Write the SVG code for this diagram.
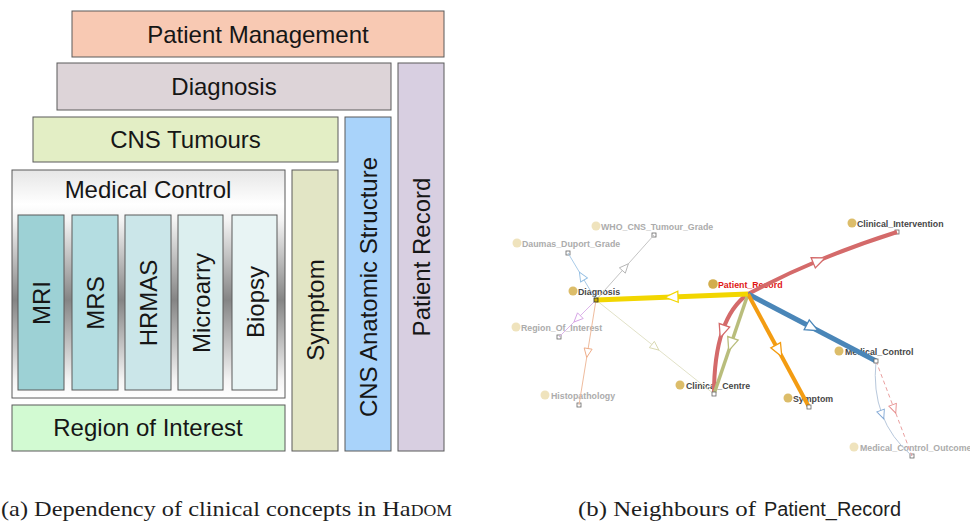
<svg xmlns="http://www.w3.org/2000/svg" width="970" height="522" viewBox="0 0 970 522">
<style>
.box{stroke:#5a5a5a;stroke-width:1}
.bt{font-family:"Liberation Sans",Arial,sans-serif;font-size:24px;fill:#161616;text-anchor:middle}
.nl{font-family:"Liberation Sans",Arial,sans-serif;font-size:8.8px;font-weight:bold}
.dk{fill:#474747}
.fd{fill:#acacac}
.pr{fill:#e01515}
.dotd{fill:#dcbd6a}
.dotf{fill:#efe3bd}
.anc{fill:#fff;stroke:#666;stroke-width:0.8}
.e{fill:none}
.cap{font-family:"Liberation Serif","Times New Roman",serif;font-size:22px;fill:#1e1e1e}
.caps{font-family:"Liberation Sans",Arial,sans-serif;font-size:20px;fill:#1e1e1e}
</style>
<defs>
<linearGradient id="gMC" x1="0" y1="0" x2="0" y2="1">
<stop offset="0" stop-color="#e6e6e6"/>
<stop offset="0.15" stop-color="#ffffff"/>
<stop offset="0.22" stop-color="#f4f4f4"/>
<stop offset="0.57" stop-color="#858585"/>
<stop offset="0.92" stop-color="#f4f4f4"/>
<stop offset="1" stop-color="#ffffff"/>
</linearGradient>
<marker id="mY" viewBox="-8 -7 16 14" markerWidth="16" markerHeight="14" orient="auto" markerUnits="userSpaceOnUse"><path d="M-6,-5.5 L7,0 L-6,5.5 Z" fill="#fff" stroke="#f2d600" stroke-width="1.3"/></marker>
<marker id="mR" viewBox="-8 -7 16 14" markerWidth="16" markerHeight="14" orient="auto" markerUnits="userSpaceOnUse"><path d="M-6,-5.5 L7,0 L-6,5.5 Z" fill="#fff" stroke="#d46a6a" stroke-width="1.3"/></marker>
<marker id="mB" viewBox="-8 -7 16 14" markerWidth="16" markerHeight="14" orient="auto" markerUnits="userSpaceOnUse"><path d="M-6,-5.5 L7,0 L-6,5.5 Z" fill="#fff" stroke="#4a86b8" stroke-width="1.3"/></marker>
<marker id="mO" viewBox="-8 -7 16 14" markerWidth="16" markerHeight="14" orient="auto" markerUnits="userSpaceOnUse"><path d="M-6,-5.5 L7,0 L-6,5.5 Z" fill="#fff" stroke="#f39c12" stroke-width="1.3"/></marker>
<marker id="mG" viewBox="-8 -7 16 14" markerWidth="16" markerHeight="14" orient="auto" markerUnits="userSpaceOnUse"><path d="M-6,-5.5 L7,0 L-6,5.5 Z" fill="#fff" stroke="#b9bd7c" stroke-width="1.3"/></marker>
<marker id="tG" viewBox="-6 -5 12 10" markerWidth="12" markerHeight="10" orient="auto" markerUnits="userSpaceOnUse"><path d="M-4,-4 L5,0 L-4,4 Z" fill="#fff" stroke="#b4b4b4" stroke-width="0.9"/></marker>
<marker id="tB" viewBox="-6 -5 12 10" markerWidth="12" markerHeight="10" orient="auto" markerUnits="userSpaceOnUse"><path d="M-4,-4 L5,0 L-4,4 Z" fill="#fff" stroke="#8fbce2" stroke-width="0.9"/></marker>
<marker id="tP" viewBox="-6 -5 12 10" markerWidth="12" markerHeight="10" orient="auto" markerUnits="userSpaceOnUse"><path d="M-4,-4 L5,0 L-4,4 Z" fill="#fff" stroke="#d4a0e4" stroke-width="0.9"/></marker>
<marker id="tO" viewBox="-6 -5 12 10" markerWidth="12" markerHeight="10" orient="auto" markerUnits="userSpaceOnUse"><path d="M-4,-4 L5,0 L-4,4 Z" fill="#fff" stroke="#eca883" stroke-width="0.9"/></marker>
<marker id="tC" viewBox="-6 -5 12 10" markerWidth="12" markerHeight="10" orient="auto" markerUnits="userSpaceOnUse"><path d="M-4,-4 L5,0 L-4,4 Z" fill="#fff" stroke="#d8d8b0" stroke-width="0.9"/></marker>
<marker id="tR" viewBox="-6 -5 12 10" markerWidth="12" markerHeight="10" orient="auto" markerUnits="userSpaceOnUse"><path d="M-4,-4 L5,0 L-4,4 Z" fill="#fff" stroke="#e58a8a" stroke-width="0.9"/></marker>
<marker id="tS" viewBox="-6 -5 12 10" markerWidth="12" markerHeight="10" orient="auto" markerUnits="userSpaceOnUse"><path d="M-4,-4 L5,0 L-4,4 Z" fill="#fff" stroke="#7fa6d4" stroke-width="0.9"/></marker>
</defs>
<rect width="970" height="522" fill="#ffffff"/>

<!-- Left panel (a) -->
<g id="patient-management"><rect class="box" x="72" y="11" width="372" height="46" fill="#f8c9b3"/><text class="bt" x="258" y="43">Patient Management</text></g>
<g id="diagnosis-box"><rect class="box" x="57" y="63" width="334" height="47" fill="#ddd4d8"/><text class="bt" x="224" y="95">Diagnosis</text></g>
<g id="patient-record-box"><rect class="box" x="398" y="63" width="46" height="388" fill="#d8cfe1"/><text class="bt" transform="translate(421,257) rotate(-90)" x="0" y="9">Patient Record</text></g>
<g id="cns-tumours"><rect class="box" x="33" y="117" width="305" height="45" fill="#e3eec5"/><text class="bt" x="185.5" y="148">CNS Tumours</text></g>
<g id="cns-anatomic"><rect class="box" x="345" y="117" width="46" height="334" fill="#a9d3fa"/><text class="bt" transform="translate(368,287) rotate(-90)" x="0" y="9">CNS Anatomic Structure</text></g>
<g id="medical-control-box"><rect class="box" x="12" y="170" width="273" height="228" fill="url(#gMC)"/><text class="bt" x="148" y="198">Medical Control</text>
<g id="mri"><rect class="box" x="18" y="215" width="46" height="175" fill="#9dd1d5"/><text class="bt" transform="translate(41,303) rotate(-90)" x="0" y="9">MRI</text></g>
<g id="mrs"><rect class="box" x="72" y="215" width="46" height="175" fill="#b4dde1"/><text class="bt" transform="translate(95,303) rotate(-90)" x="0" y="9">MRS</text></g>
<g id="hrmas"><rect class="box" x="125" y="215" width="46" height="175" fill="#cbe6e9"/><text class="bt" transform="translate(148,303) rotate(-90)" x="0" y="9">HRMAS</text></g>
<g id="microarry"><rect class="box" x="178" y="215" width="45" height="175" fill="#dcefef"/><text class="bt" transform="translate(200.5,303) rotate(-90)" x="0" y="9">Microarry</text></g>
<g id="biopsy"><rect class="box" x="232" y="215" width="45" height="175" fill="#e8f4f4"/><text class="bt" transform="translate(254.5,302) rotate(-90)" x="0" y="9">Biopsy</text></g>
</g>
<g id="symptom-box"><rect class="box" x="292" y="170" width="46" height="281" fill="#e2e5c5"/><text class="bt" transform="translate(315,310) rotate(-90)" x="0" y="9">Symptom</text></g>
<g id="region-of-interest-box"><rect class="box" x="12" y="405" width="273" height="46" fill="#d2fad2"/><text class="bt" x="148" y="436">Region of Interest</text></g>

<!-- Right panel (b) nodes -->
<g id="n-who"><circle class="dotf" cx="596" cy="226" r="4.5"/><text class="nl fd" x="601" y="229.5">WHO_CNS_Tumour_Grade</text><rect class="anc" x="652" y="233" width="4" height="4"/></g>
<g id="n-daumas"><circle class="dotf" cx="517" cy="243" r="4.5"/><text class="nl fd" x="522" y="246.5">Daumas_Duport_Grade</text><rect class="anc" x="566" y="251" width="4" height="4"/></g>
<g id="n-diagnosis"><circle class="dotd" cx="573" cy="291" r="4.5"/><text class="nl dk" x="578" y="294.5">Diagnosis</text></g>
<g id="n-patient-record"><circle cx="713" cy="284" r="4.8" fill="#d2ad4c"/><text class="nl pr" x="718" y="287.5">Patient_Record</text></g>
<g id="n-clinical-intervention"><circle class="dotd" cx="852" cy="223" r="4.5"/><text class="nl dk" x="857" y="226.5">Clinical_Intervention</text><rect class="anc" x="895" y="230" width="4" height="4"/></g>
<g id="n-medical-control"><circle class="dotd" cx="839" cy="351" r="4.5"/><text class="nl dk" x="845" y="354.5">Medical_Control</text></g>
<g id="n-symptom"><circle class="dotd" cx="788" cy="398" r="4.5"/><text class="nl dk" x="793" y="401.5">Symptom</text></g>
<g id="n-clinical-centre"><circle class="dotd" cx="680" cy="385" r="4.5"/><text class="nl dk" x="686" y="388.5">Clinical_Centre</text></g>
<g id="n-histopathology"><circle class="dotf" cx="545" cy="395" r="4.5"/><text class="nl fd" x="551" y="398.5">Histopathology</text><rect class="anc" x="577" y="403" width="4" height="4"/></g>
<g id="n-region-of-interest"><circle class="dotf" cx="516" cy="327" r="4.5"/><text class="nl fd" x="521" y="330.5">Region_Of_Interest</text><rect class="anc" x="557" y="335" width="4" height="4"/></g>
<g id="n-medical-control-outcome"><circle class="dotf" cx="854" cy="447" r="4.5"/><text class="nl fd" x="860" y="450.5">Medical_Control_Outcome</text><rect class="anc" x="910" y="454" width="4" height="4"/></g>

<!-- Connectors -->
<g id="connectors">
<path class="e" d="M596,300 L625,267.5 L654,235" stroke="#c4c4c4" stroke-width="1" marker-mid="url(#tG)"/>
<path class="e" d="M596,300 L582,276.5 L568,253" stroke="#a9cbe8" stroke-width="1" marker-mid="url(#tB)"/>
<path class="e" d="M596,300 L577.5,318.5 L559,337" stroke="#dcb4ea" stroke-width="1" marker-mid="url(#tP)"/>
<path class="e" d="M596,300 L587.5,352.5 L579,405" stroke="#efbc9e" stroke-width="1" marker-mid="url(#tO)"/>
<path class="e" d="M596,300 L655,347 L714,394" stroke="#e2e2c8" stroke-width="1" marker-mid="url(#tC)"/>
<path class="e" d="M876,361 Q873,390.5 882,414.25 Q891,438 912,456" stroke="#b8c8dc" stroke-width="1" marker-mid="url(#tS)"/>
<path class="e" d="M876,361 L894,408.5 L912,456" stroke="#eaa0a0" stroke-width="1" stroke-dasharray="4,3" marker-mid="url(#tR)"/>
<path class="e" d="M748,294 Q731,306 722.5,331 Q714,356 714,394" stroke="#d46a6a" stroke-width="4" marker-mid="url(#mR)"/>
<path class="e" d="M748,294 L731,344 L714,394" stroke="#b9bd7c" stroke-width="3.5" marker-mid="url(#mG)"/>
<path class="e" d="M748,294 Q781.5,276 818.75,260.5 Q856,245 897,232" stroke="#d46a6a" stroke-width="4" marker-mid="url(#mR)"/>
<path class="e" d="M748,294 L812,327.5 L876,361" stroke="#4a86b8" stroke-width="5" marker-mid="url(#mB)"/>
<path class="e" d="M748,294 L778.5,350.5 L809,407" stroke="#f39c12" stroke-width="4" marker-mid="url(#mO)"/>
<path class="e" d="M748,294 L672,297 L596,300" stroke="#f2d600" stroke-width="5" marker-mid="url(#mY)"/>
<rect x="594" y="298" width="4" height="4" fill="#c8a800" stroke="#333" stroke-width="0.8"/>
<rect class="anc" x="874" y="359" width="4" height="4"/>
<rect class="anc" x="807" y="405" width="4" height="4"/>
<rect class="anc" x="712" y="392" width="4" height="4"/>
</g>

<!-- Captions -->
<g id="captions">
<text class="cap" x="1" y="516" textLength="451" lengthAdjust="spacingAndGlyphs">(a) Dependency of clinical concepts in Ha<tspan font-size="16">DOM</tspan></text>
<text class="cap" x="578" y="516" textLength="178" lengthAdjust="spacingAndGlyphs">(b) Neighbours of</text>
<text class="caps" x="764" y="516" textLength="137" lengthAdjust="spacingAndGlyphs">Patient_Record</text>
</g>
</svg>
